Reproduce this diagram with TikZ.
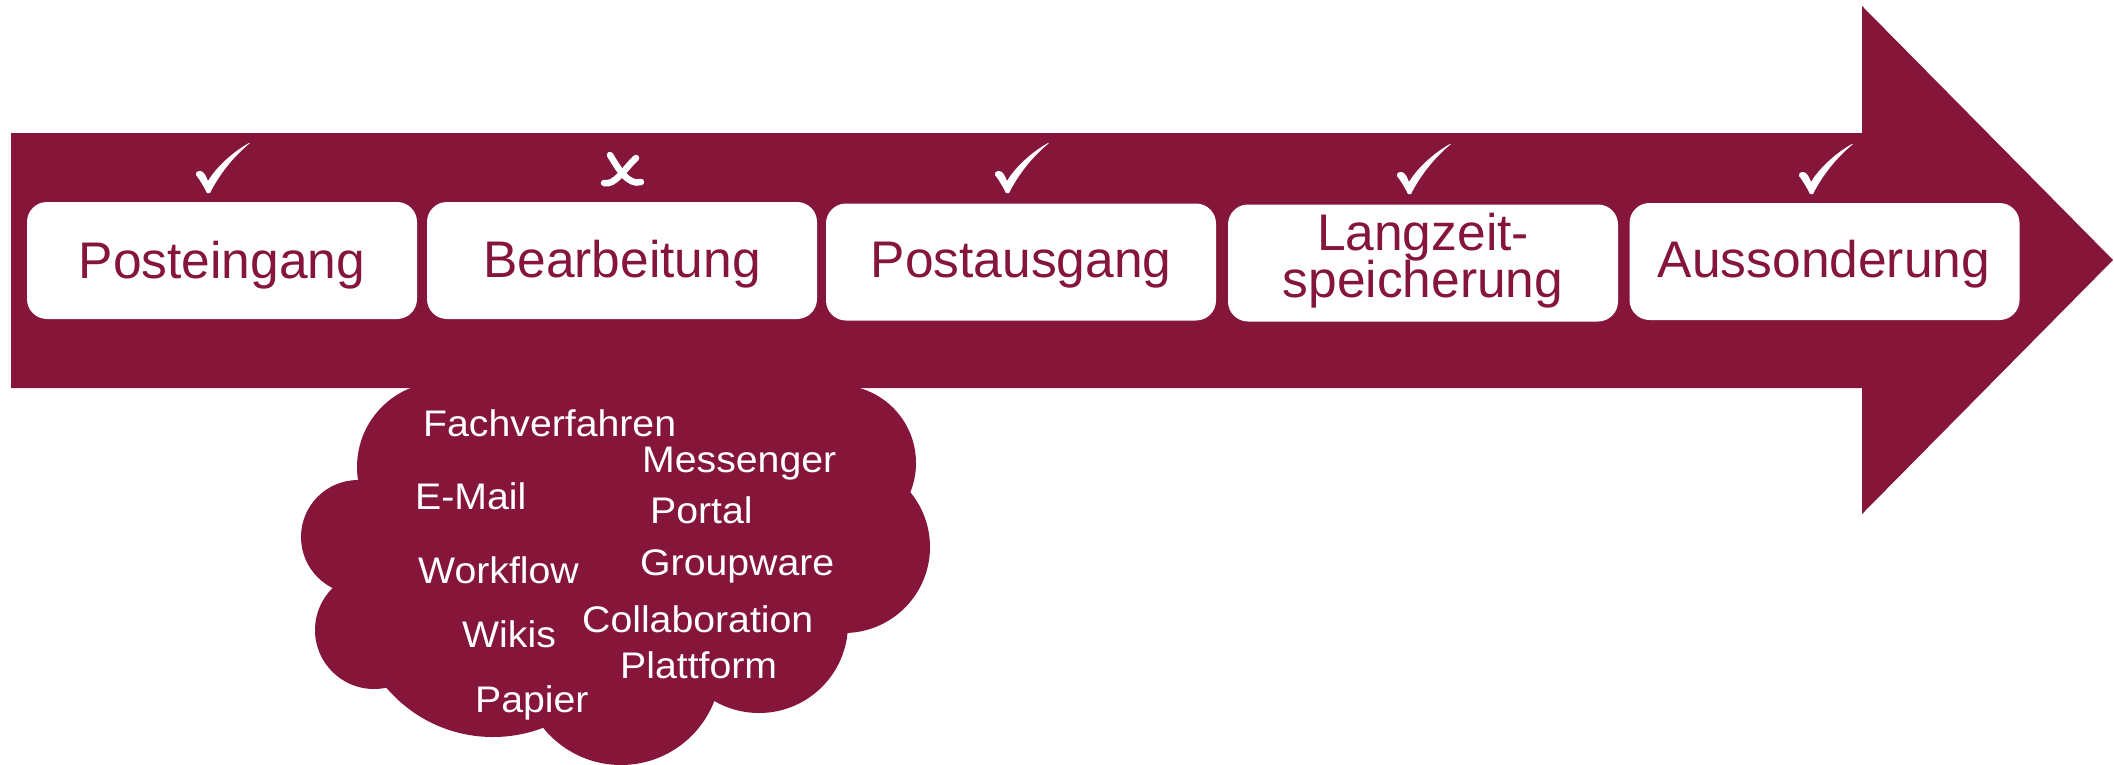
\documentclass[tikz,border=0pt]{standalone}
\usepackage{fontspec}
\setmainfont{Liberation Sans}
\newfontfamily\cloudfont[FakeStretch=1.06]{Liberation Sans}
\definecolor{wine}{RGB}{133,22,58}
\begin{document}
\begin{tikzpicture}[x=1pt,y=-1pt,
  stagebox/.style={fill=white,draw=none,rounded corners=20pt,minimum width=390pt,minimum height=117pt,inner sep=0pt},
  stagetext/.style={text=wine,font=\fontsize{51.5}{56}\selectfont,anchor=base,inner sep=0pt},
  cloudtext/.style={text=white,font=\cloudfont\fontsize{37}{40}\selectfont,anchor=base west,inner sep=0pt},
  checkmark/.pic={
    \fill[white] (1,0) .. controls (10,-18) and (24,-36) .. (41,-50)
      -- (40,-50) .. controls (22,-40) and (6,-24) .. (-1,-12)
      .. controls (-3,-17) and (-5,-22) .. (-9,-22)
      .. controls (-12,-22) and (-14,-20) .. (-13,-18)
      .. controls (-9,-13) and (-5,-6) .. (-2,0) -- cycle;
  },
  crossmark/.pic={
    \draw[white,line width=6.5pt,line cap=round] (-12,-15) .. controls (-4,-2) and (6,16) .. (19,12);
    \draw[white,line width=6.5pt,line cap=round] (14,-12) .. controls (3,-2) and (-7,16) .. (-18,13);
  }
]
\useasboundingbox (0,0) rectangle (2114,764);
% big arrow
\fill[wine] (11,133) -- (1862,133) -- (1862,6) -- (2113,260) -- (1862,514) -- (1862,388) -- (11,388) -- cycle;
% cloud
\fill[wine] (442,467) circle[radius=85];
\fill[wine] (358,537) circle[radius=57];
\fill[wine] (374,630) circle[radius=59];
\fill[wine] (493,597) circle[radius=140];
\fill[wine] (621,665) circle[radius=100];
\fill[wine] (759,624) circle[radius=89];
\fill[wine] (844,547) circle[radius=86];
\fill[wine] (838,463) circle[radius=78];
\fill[wine] (430,388) -- (850,388) -- (838,463) -- (844,547) -- (759,624) -- (621,665) -- (493,597) -- (374,630) -- (358,537) -- (442,467) -- cycle;
% stage boxes
\node[stagebox] (b1) at (222,260.5) {};
\node[stagebox] (b2) at (622,260.5) {};
\node[stagebox] (b3) at (1021,262) {};
\node[stagebox] (b4) at (1423,263) {};
\node[stagebox] (b5) at (1824.5,261.5) {};
\node[stagetext] (t1) at (222,278) {Posteingang};
\node[stagetext] (t2) at (622,277) {Bearbeitung};
\node[stagetext] (t3) at (1021,277) {Postausgang};
\node[stagetext] (t4a) at (1423,250) {Langzeit-};
\node[stagetext] (t4b) at (1423,297) {speicherung};
\node[stagetext] (t5) at (1824,277) {Aussonderung};
% marks
\pic at (209,193) {checkmark};
\pic at (622,170) {crossmark};
\pic at (1008,193) {checkmark};
\pic at (1410,194) {checkmark};
\pic at (1812,194) {checkmark};
% cloud texts
\node[cloudtext] (k1) at (423,436) {Fachverfahren};
\node[cloudtext] (k2) at (642,472) {Messenger};
\node[cloudtext] (k3) at (415,509) {E-Mail};
\node[cloudtext] (k4) at (650,523) {Portal};
\node[cloudtext] (k5) at (418,583) {Workflow};
\node[cloudtext] (k6) at (640,575) {Groupware};
\node[cloudtext] (k7) at (582,632) {Collaboration};
\node[cloudtext] (k8) at (462,647) {Wikis};
\node[cloudtext] (k9) at (620,678) {Plattform};
\node[cloudtext] (k10) at (475,712) {Papier};
\end{tikzpicture}
\end{document}
